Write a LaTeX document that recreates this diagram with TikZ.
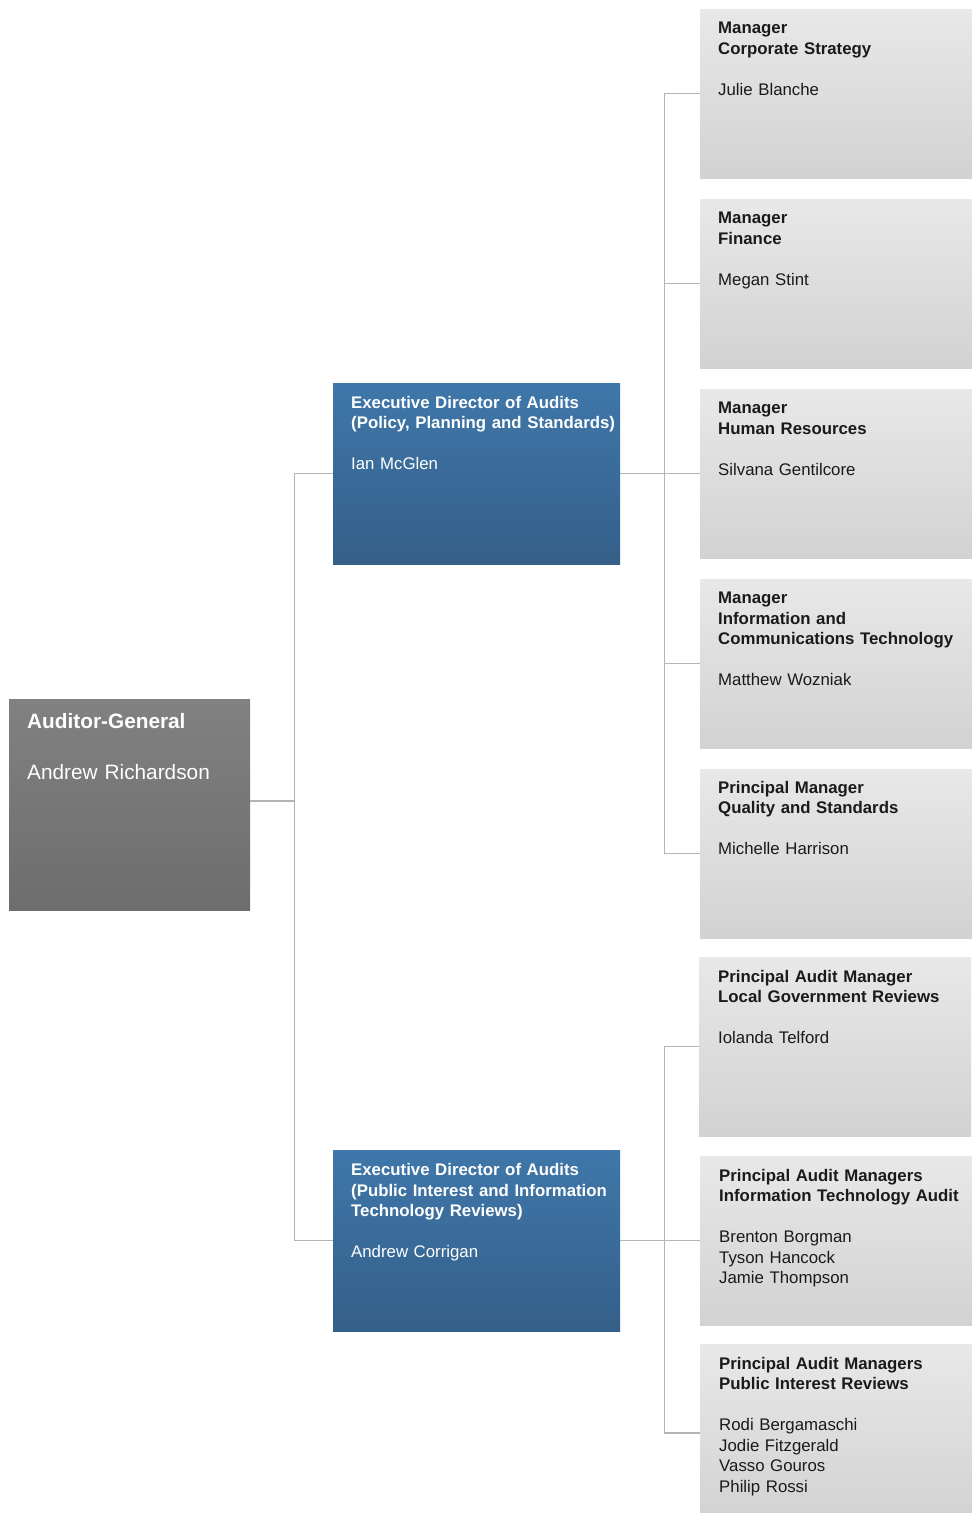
\documentclass[tikz,border=0pt]{standalone}
\usepackage{fontspec}
\setmainfont{Liberation Sans}
\usepackage{tikz}
\usetikzlibrary{positioning}
\definecolor{agtop}{HTML}{818181}
\definecolor{agbot}{HTML}{6D6D6D}
\definecolor{edtop}{HTML}{3F77AA}
\definecolor{edbot}{HTML}{345F89}
\definecolor{mgrtop}{HTML}{E8E8E8}
\definecolor{mgrbot}{HTML}{D2D2D2}
\definecolor{linkgray}{HTML}{B4B4B4}
\definecolor{inkdark}{HTML}{1A1A1A}
\tikzset{
    box/.style = {rectangle, inner sep=0pt, anchor=north west},
    agbox/.style = {box, top color=agtop, bottom color=agbot, minimum width=241pt, minimum height=211pt},
    edbox/.style = {box, top color=edtop, bottom color=edbot, minimum width=287pt, minimum height=181pt},
    mgrbox/.style = {box, top color=mgrtop, bottom color=mgrbot, minimum width=272pt, minimum height=169pt},
    agtext/.style = {inner sep=0pt, text width=225pt, align=left, text=white, font=\fontsize{20.8}{25.5}\selectfont},
    edtext/.style = {inner sep=0pt, text width=270pt, align=left, text=white, font=\fontsize{16.8}{20.5}\selectfont},
    mgrtext/.style = {inner sep=0pt, text width=254pt, align=left, text=inkdark, font=\fontsize{16.8}{20.5}\selectfont},
    line/.style = {draw=linkgray, line width=1.5pt, -}
}

\begin{document}
\begin{tikzpicture}[x=1pt, y=1pt]
\useasboundingbox (0,0) rectangle (972,-1513);
% Boxes
\node (ag) [agbox] at (9,-699) {};
\node (ed1) [edbox] at (333,-383) {};
\node (ed2) [edbox] at (333,-1150) {};

\node (m1) [mgrbox] at (700,-9) {};
\node (m2) [mgrbox] at (700,-199) {};
\node (m3) [mgrbox] at (700,-389) {};
\node (m4) [mgrbox] at (700,-579) {};
\node (m5) [mgrbox] at (700,-769) {};
\node (m6) [mgrbox, minimum height=179pt] at (699,-957) {};
\node (m7) [mgrbox] at (700,-1156) {};
\node (m8) [mgrbox, minimum height=178pt] at (700,-1344) {};

% Texts
\node (agT) [agtext, below right=14pt and 18pt of ag.north west] {\textbf{Auditor-General}\\[25.5pt] Andrew Richardson};
\node (ed1T) [edtext, below right=13pt and 18pt of ed1.north west] {\textbf{Executive Director of Audits}\\ \textbf{(Policy, Planning and Standards)}\\[20.5pt] Ian McGlen};
\node (ed2T) [edtext, below right=13.5pt and 18pt of ed2.north west] {\textbf{Executive Director of Audits}\\ \textbf{(Public Interest and Information}\\ \textbf{Technology Reviews)}\\[20.5pt] Andrew Corrigan};

\node (m1T) [mgrtext, below right=13pt and 18pt of m1.north west] {\textbf{Manager}\\ \textbf{Corporate Strategy}\\[20.5pt] Julie Blanche};
\node (m2T) [mgrtext, below right=13pt and 18pt of m2.north west] {\textbf{Manager}\\ \textbf{Finance}\\[20.5pt] Megan Stint};
\node (m3T) [mgrtext, below right=13pt and 18pt of m3.north west] {\textbf{Manager}\\ \textbf{Human Resources}\\[20.5pt] Silvana Gentilcore};
\node (m4T) [mgrtext, below right=13pt and 18pt of m4.north west] {\textbf{Manager}\\ \textbf{Information and}\\ \textbf{Communications Technology}\\[20.5pt] Matthew Wozniak};
\node (m5T) [mgrtext, below right=12pt and 18pt of m5.north west] {\textbf{Principal Manager}\\ \textbf{Quality and Standards}\\[20.5pt] Michelle Harrison};
\node (m6T) [mgrtext, below right=13pt and 19pt of m6.north west] {\textbf{Principal Audit Manager}\\ \textbf{Local Government Reviews}\\[20.5pt] Iolanda Telford};
\node (m7T) [mgrtext, below right=13pt and 19pt of m7.north west] {\textbf{Principal Audit Managers}\\ \textbf{Information Technology Audit}\\[20.5pt] Brenton Borgman\\ Tyson Hancock\\ Jamie Thompson};
\node (m8T) [mgrtext, below right=13pt and 19pt of m8.north west] {\textbf{Principal Audit Managers}\\ \textbf{Public Interest Reviews}\\[20.5pt] Rodi Bergamaschi\\ Jodie Fitzgerald\\ Vasso Gouros\\ Philip Rossi};

% Connectors
\draw [line] ([yshift=3.5pt]ag.east) -- ++(44,0) |- (ed1.west);
\draw [line] ([yshift=3.5pt]ag.east) -- ++(44,0) |- (ed2.west);
\foreach \m in {m1,m2,m3,m4,m5}
    \draw [line] (ed1.east) -- ++(44,0) |- (\m.west);
\foreach \m in {m6,m7,m8}
    \draw [line] (ed2.east) -- ++(44,0) |- (\m.west);

\end{tikzpicture}
\end{document}
